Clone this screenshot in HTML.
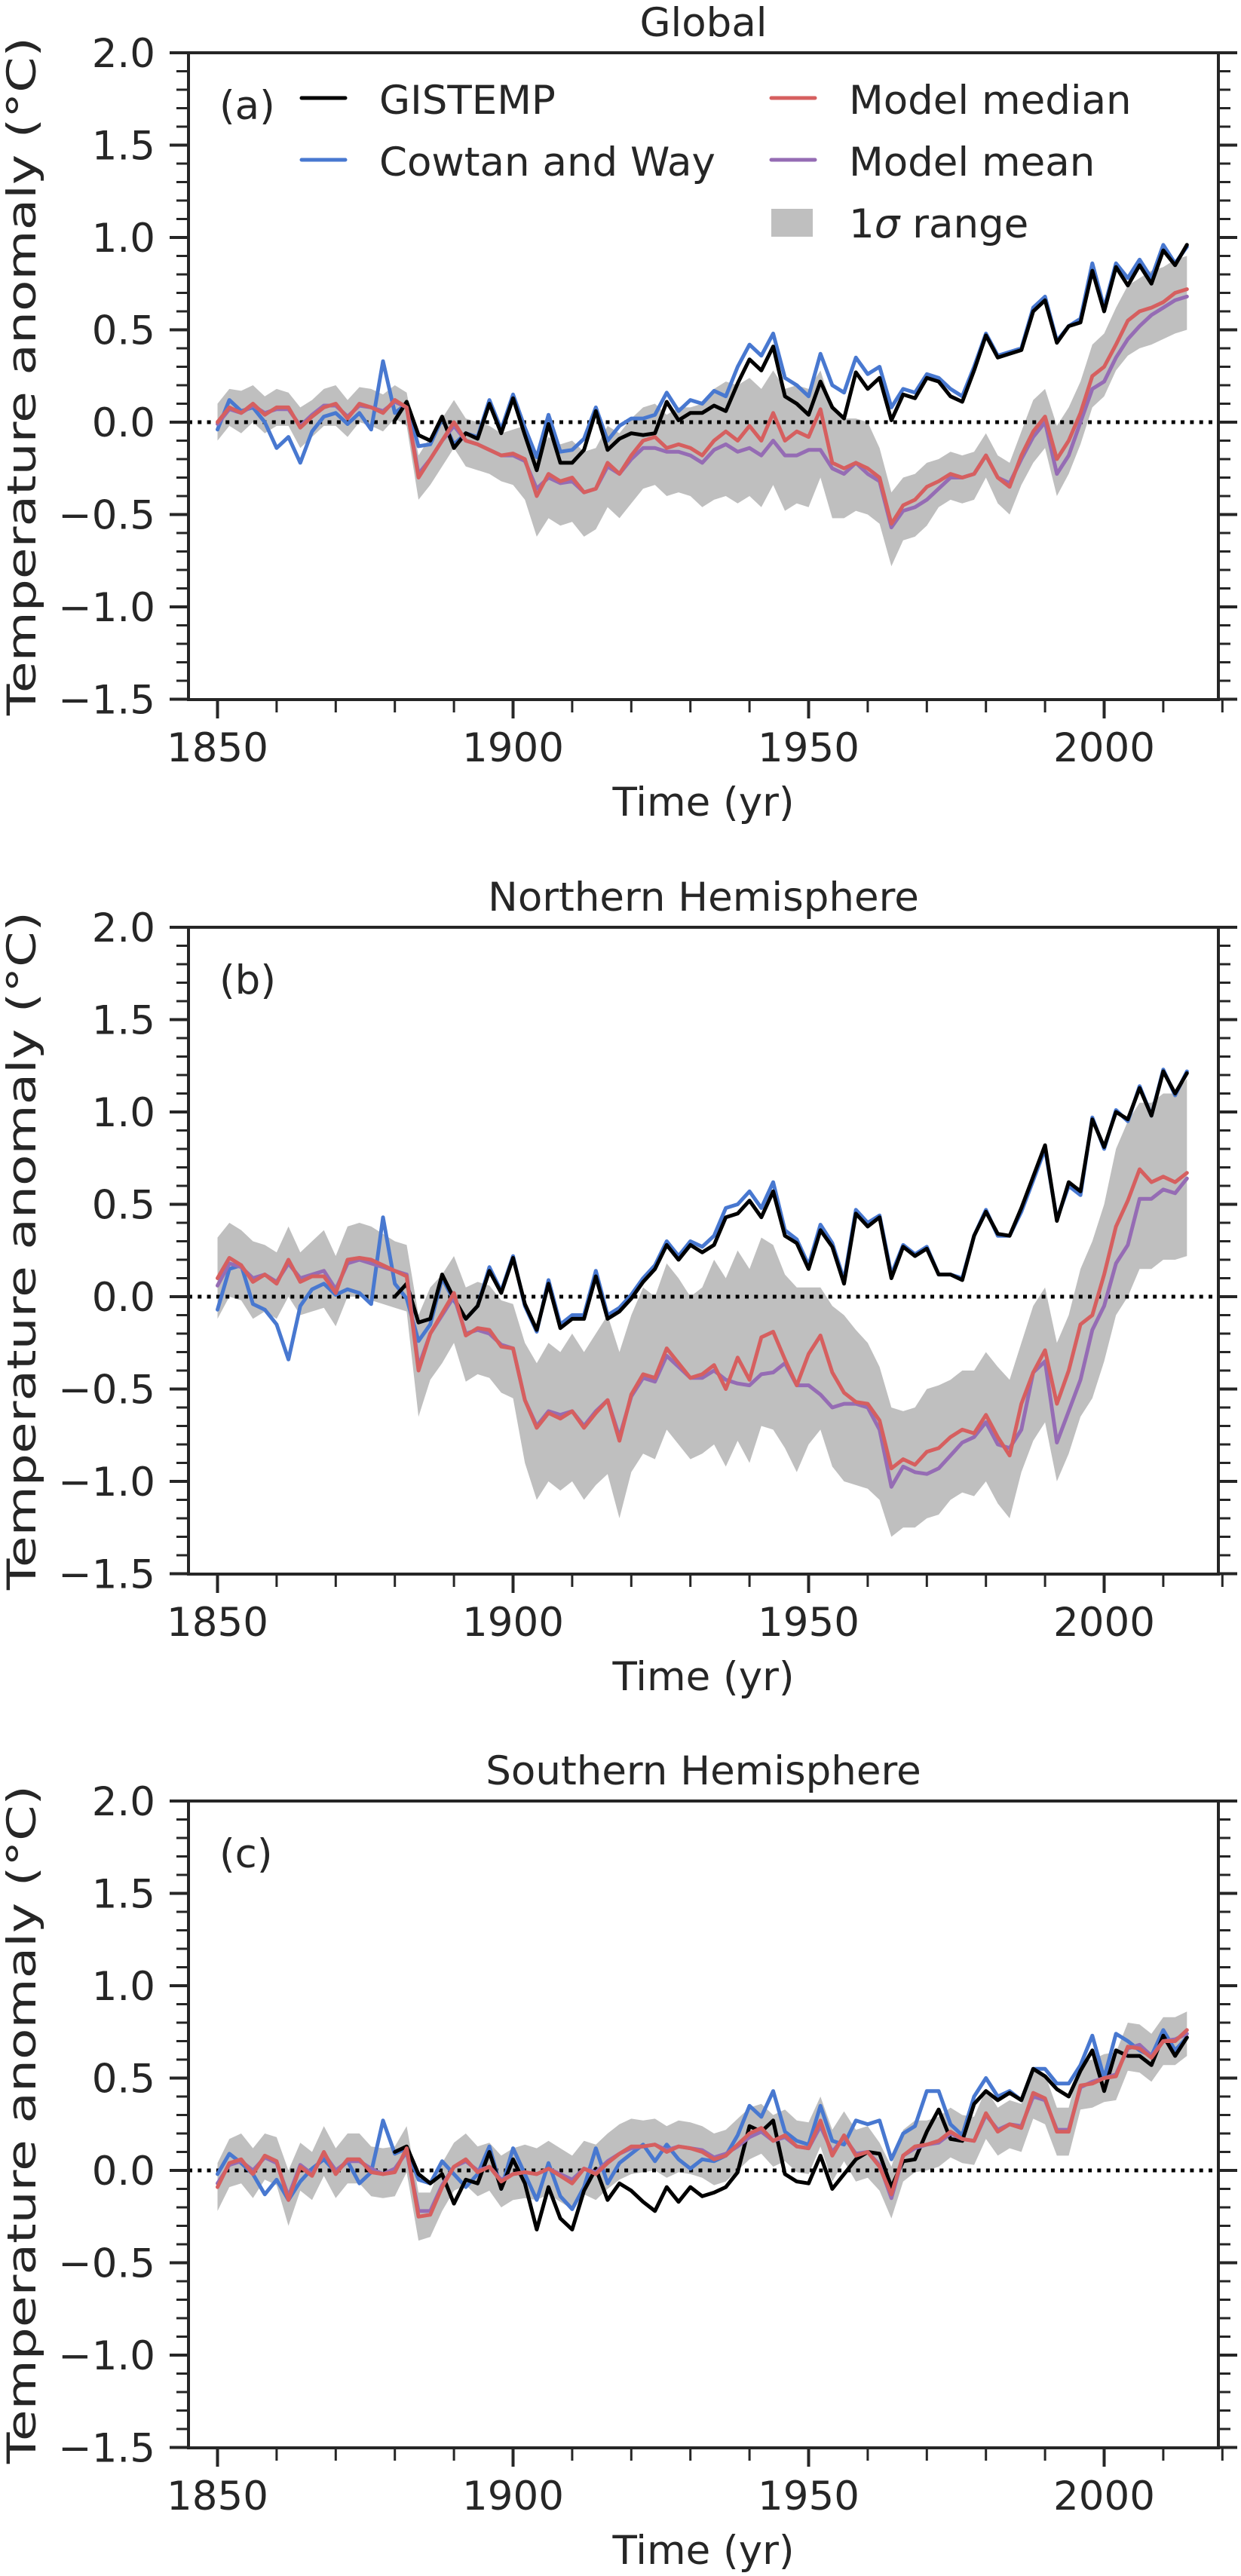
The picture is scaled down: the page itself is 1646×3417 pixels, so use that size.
<!DOCTYPE html>
<html><head><meta charset="utf-8"><style>
html,body{margin:0;padding:0;background:#fff;}
svg{display:block;font-family:"DejaVu Sans","Liberation Sans",sans-serif;}
</style></head><body>
<svg id="fig" xmlns="http://www.w3.org/2000/svg" width="1646" height="3417" viewBox="0 0 1646 3417"></svg>
<script>
// ---------- data (even years) ----------
const obsStartCW = 1850, obsStartGIS = 1880, modelStart = 1850;
const titles = ["Global", "Northern Hemisphere", "Southern Hemisphere"];
const panelLabels = ["(a)", "(b)", "(c)"];
const yTicks = [2.0, 1.5, 1.0, 0.5, 0.0, -0.5, -1.0, -1.5];
const yTickLabels = ["2.0", "1.5", "1.0", "0.5", "0.0", "\u22120.5", "\u22121.0", "\u22121.5"];
const xTicks = [1850, 1900, 1950, 2000];
const xTickLabels = ["1850", "1900", "1950", "2000"];

const gisA = [.01,.11,-.07,-.10,.03,-.14,-.06,-.09,.10,-.06,.13,-.07,-.26,-.01,-.22,-.22,-.15,.06,-.15,-.09,-.06,-.07,-.06,.11,.01,.05,.05,.09,.06,.21,.34,.28,.41,.14,.10,.04,.22,.08,.02,.27,.18,.24,.01,.15,.13,.24,.22,.14,.11,.28,.47,.35,.37,.39,.60,.66,.43,.52,.54,.82,.60,.84,.74,.85,.75,.93,.85,.96];
const cwA = [-.04,.12,.06,.08,.00,-.14,-.08,-.22,-.05,.03,.05,-.01,.05,-.04,.33,.05,.10,-.13,-.12,.02,-.12,-.06,-.08,.12,-.04,.15,-.03,-.19,.04,-.16,-.15,-.09,.08,-.10,-.02,.02,.02,.04,.16,.06,.12,.10,.17,.14,.30,.42,.36,.48,.24,.20,.14,.37,.20,.16,.35,.26,.30,.08,.18,.16,.26,.24,.18,.14,.30,.48,.36,.38,.40,.62,.68,.44,.52,.56,.86,.62,.86,.78,.88,.78,.96,.86,.95];
const medA = [.00,.08,.05,.10,.04,.08,.08,-.03,.03,.08,.10,.02,.10,.08,.05,.12,.08,-.30,-.20,-.10,.00,-.10,-.12,-.15,-.18,-.17,-.20,-.40,-.28,-.32,-.30,-.38,-.36,-.22,-.28,-.18,-.10,-.08,-.14,-.12,-.14,-.18,-.10,-.05,-.10,-.02,-.10,.05,-.10,-.05,-.08,.07,-.22,-.25,-.22,-.25,-.30,-.55,-.45,-.42,-.35,-.32,-.28,-.30,-.28,-.18,-.30,-.35,-.18,-.05,.03,-.20,-.10,.05,.25,.30,.42,.55,.60,.62,.65,.70,.72];
const meanA = [-.01,.07,.05,.09,.05,.07,.07,-.02,.04,.09,.09,.03,.09,.08,.06,.11,.08,-.28,-.20,-.10,-.02,-.10,-.12,-.15,-.18,-.18,-.21,-.36,-.30,-.33,-.32,-.38,-.36,-.24,-.28,-.20,-.14,-.14,-.16,-.16,-.18,-.22,-.15,-.12,-.16,-.14,-.18,-.10,-.18,-.18,-.15,-.15,-.25,-.28,-.22,-.28,-.32,-.57,-.48,-.46,-.42,-.36,-.30,-.30,-.28,-.18,-.30,-.33,-.20,-.08,.00,-.28,-.18,.00,.18,.22,.35,.45,.52,.58,.62,.66,.68];
const hiA = [.10,.18,.17,.20,.14,.18,.16,.08,.12,.18,.20,.12,.19,.18,.15,.20,.16,-.18,-.08,.02,.12,.02,.00,-.02,-.06,-.04,-.02,-.18,-.08,-.12,-.10,-.16,-.14,-.02,-.06,.02,.08,.10,.04,.08,.08,.10,.18,.22,.20,.24,.18,.28,.18,.20,.18,.28,.08,.02,.02,.00,-.14,-.38,-.30,-.28,-.22,-.20,-.16,-.18,-.16,-.06,-.18,-.22,-.05,.12,.18,-.02,.08,.22,.42,.48,.62,.74,.78,.82,.84,.88,.90];
const loA = [-.10,-.02,-.06,.00,-.06,-.02,-.02,-.14,-.08,-.02,-.02,-.08,.00,-.02,-.05,.02,-.02,-.42,-.34,-.24,-.14,-.24,-.26,-.28,-.32,-.34,-.42,-.62,-.52,-.56,-.54,-.62,-.58,-.46,-.52,-.44,-.36,-.34,-.40,-.38,-.40,-.46,-.42,-.40,-.44,-.40,-.46,-.34,-.48,-.44,-.46,-.30,-.52,-.52,-.48,-.50,-.55,-.78,-.64,-.62,-.56,-.46,-.42,-.44,-.42,-.30,-.44,-.50,-.34,-.22,-.14,-.40,-.28,-.12,.08,.14,.28,.36,.40,.42,.45,.48,.50];

const gisB = [.00,.07,-.14,-.12,.12,-.01,-.12,-.05,.14,.02,.21,-.04,-.18,.07,-.17,-.12,-.12,.11,-.12,-.08,-.01,.08,.15,.28,.20,.28,.24,.28,.43,.45,.52,.43,.57,.33,.29,.15,.36,.27,.07,.45,.38,.43,.10,.27,.22,.26,.12,.12,.09,.33,.46,.34,.33,.48,.65,.82,.41,.62,.57,.96,.81,1.0,.96,1.13,.98,1.22,1.10,1.21];
const cwB = [-.07,.15,.17,-.04,-.07,-.15,-.34,-.05,.04,.07,.01,.04,.02,-.04,.43,.07,-.01,-.24,-.15,.10,-.02,-.12,-.05,.16,.03,.22,-.05,-.19,.09,-.15,-.10,-.10,.14,-.10,-.06,.01,.10,.17,.30,.22,.30,.27,.33,.48,.50,.57,.48,.62,.36,.31,.17,.39,.29,.09,.47,.40,.44,.12,.28,.23,.27,.12,.12,.10,.33,.47,.33,.33,.46,.63,.80,.42,.60,.55,.97,.80,1.01,.95,1.14,.98,1.23,1.09,1.22];
const medB = [.10,.21,.17,.08,.12,.07,.20,.08,.11,.11,.02,.20,.21,.20,.17,.14,.11,-.40,-.20,-.09,.02,-.21,-.17,-.18,-.27,-.28,-.56,-.71,-.63,-.66,-.62,-.71,-.63,-.56,-.78,-.53,-.42,-.44,-.28,-.36,-.44,-.42,-.37,-.50,-.33,-.45,-.22,-.19,-.34,-.48,-.31,-.21,-.41,-.52,-.57,-.58,-.67,-.93,-.88,-.91,-.84,-.82,-.76,-.72,-.74,-.64,-.76,-.86,-.58,-.41,-.29,-.58,-.40,-.15,-.10,.12,.38,.52,.69,.62,.65,.62,.67];
const meanB = [.06,.18,.16,.10,.12,.08,.18,.10,.12,.14,.04,.18,.20,.18,.16,.14,.12,-.38,-.20,-.10,.00,-.20,-.18,-.20,-.26,-.28,-.56,-.70,-.62,-.64,-.62,-.70,-.62,-.56,-.76,-.54,-.44,-.46,-.32,-.38,-.44,-.44,-.40,-.45,-.47,-.48,-.42,-.41,-.36,-.48,-.48,-.53,-.60,-.58,-.58,-.60,-.72,-1.03,-.92,-.95,-.96,-.93,-.86,-.79,-.76,-.68,-.80,-.82,-.72,-.41,-.35,-.79,-.62,-.45,-.18,-.05,.18,.28,.53,.53,.58,.56,.64];
const hiB = [.32,.40,.36,.30,.28,.24,.38,.24,.30,.36,.22,.38,.40,.38,.34,.30,.28,-.10,.05,.12,.22,.05,.08,.06,-.02,-.04,-.25,-.36,-.25,-.30,-.20,-.30,-.20,-.10,-.30,-.10,.05,.00,.18,.10,.00,.05,.20,.10,.25,.15,.32,.28,.12,.05,.05,.05,-.05,-.10,-.18,-.25,-.38,-.60,-.62,-.60,-.50,-.48,-.45,-.40,-.40,-.30,-.38,-.45,-.25,-.05,.05,-.25,-.10,.15,.30,.50,.80,.95,1.05,1.05,1.10,1.10,1.18];
const loB = [-.12,.00,-.02,-.12,-.08,-.12,.00,-.10,-.08,-.06,-.16,.00,.00,-.02,-.04,-.06,-.08,-.65,-.45,-.36,-.25,-.46,-.42,-.44,-.52,-.55,-.90,-1.10,-1.00,-1.05,-1.00,-1.10,-1.02,-.96,-1.20,-.95,-.85,-.88,-.72,-.80,-.88,-.85,-.80,-.92,-.78,-.90,-.70,-.72,-.82,-.95,-.80,-.72,-.92,-1.00,-1.02,-1.04,-1.10,-1.30,-1.25,-1.25,-1.20,-1.18,-1.10,-1.06,-1.08,-1.00,-1.12,-1.20,-.95,-.78,-.68,-1.00,-.85,-.65,-.55,-.35,-.10,.00,.15,.15,.20,.20,.22];

const gisC = [.10,.13,-.02,-.07,-.02,-.18,-.05,-.07,.10,-.10,.06,-.07,-.32,-.09,-.26,-.32,-.11,.01,-.16,-.07,-.11,-.17,-.22,-.09,-.17,-.09,-.14,-.12,-.09,-.01,.24,.21,.27,-.02,-.06,-.07,.08,-.10,-.02,.06,.10,.09,-.09,.05,.06,.21,.33,.17,.16,.36,.43,.38,.42,.38,.55,.51,.44,.40,.54,.65,.43,.65,.62,.62,.57,.73,.62,.72];
const cwC = [-.02,.09,.04,-.02,-.13,-.05,-.16,-.06,.01,.06,-.01,.05,-.07,-.01,.27,.09,.12,-.05,-.07,.05,-.02,-.09,-.02,.13,-.10,.12,-.02,-.16,.04,-.14,-.21,-.09,.12,-.07,.04,.09,.14,.05,.14,.06,.01,.06,.05,.08,.19,.35,.29,.43,.21,.16,.14,.35,.16,.14,.27,.25,.27,.06,.20,.24,.43,.43,.25,.19,.40,.50,.40,.43,.38,.55,.55,.47,.47,.57,.73,.50,.74,.70,.65,.62,.76,.65,.72];
const medC = [-.09,.04,.06,-.02,.08,.05,-.16,.02,-.03,.10,-.02,.06,.06,-.01,-.02,-.01,.12,-.25,-.24,-.09,.02,.06,-.01,.02,-.06,-.02,-.01,-.02,.01,-.03,-.07,.01,-.02,.04,.09,.13,.13,.14,.10,.13,.12,.10,.06,.08,.14,.20,.23,.16,.19,.13,.12,.27,.08,.19,.08,.10,.02,-.13,.08,.13,.14,.16,.21,.17,.16,.31,.21,.25,.23,.42,.39,.21,.21,.46,.47,.50,.51,.67,.66,.61,.70,.70,.76];
const meanC = [-.07,.03,.05,.00,.07,.04,-.14,.03,-.02,.09,.00,.05,.05,.01,-.02,.01,.10,-.22,-.22,-.08,.02,.05,.00,.02,-.05,-.02,-.01,-.02,.01,-.02,-.05,.01,-.01,.05,.09,.12,.13,.14,.11,.13,.12,.11,.07,.09,.13,.18,.21,.16,.18,.13,.12,.24,.10,.18,.09,.10,.03,-.15,.08,.12,.14,.15,.20,.17,.16,.30,.22,.25,.24,.40,.38,.22,.22,.45,.48,.50,.52,.66,.68,.62,.70,.71,.74];
const hiC = [.04,.17,.20,.12,.20,.18,.00,.15,.10,.24,.12,.20,.20,.13,.12,.13,.24,-.12,-.12,.04,.15,.20,.13,.15,.08,.12,.14,.12,.16,.12,.08,.16,.14,.20,.25,.28,.27,.28,.24,.27,.26,.24,.20,.22,.28,.34,.36,.30,.33,.27,.26,.40,.22,.32,.22,.24,.15,.02,.22,.27,.27,.29,.34,.30,.29,.44,.34,.38,.36,.55,.52,.34,.34,.59,.60,.63,.64,.80,.79,.74,.83,.83,.86];
const loC = [-.22,-.09,-.07,-.15,-.05,-.08,-.30,-.11,-.16,-.03,-.15,-.07,-.07,-.14,-.15,-.14,-.01,-.38,-.36,-.22,-.11,-.08,-.14,-.11,-.20,-.16,-.15,-.16,-.13,-.17,-.21,-.13,-.16,-.10,-.05,-.02,-.01,.00,-.04,-.01,-.02,-.04,-.08,-.06,.00,.06,.09,.02,.05,-.01,-.02,.13,-.06,.05,-.06,-.04,-.11,-.26,-.06,-.01,.00,.02,.07,.04,.03,.17,.08,.12,.10,.28,.25,.08,.08,.33,.34,.37,.38,.54,.53,.48,.57,.57,.62];

const panelsData = [
  {gis: gisA, cw: cwA, med: medA, mean: meanA, hi: hiA, lo: loA},
  {gis: gisB, cw: cwB, med: medB, mean: meanB, hi: hiB, lo: loB},
  {gis: gisC, cw: cwC, med: medC, mean: meanC, hi: hiC, lo: loC}
];

// ---------- drawing ----------
const NS = "http://www.w3.org/2000/svg";
const svg = document.getElementById("fig");
const tops = [70, 1230, 2389];
const L = 250, R = 1616, H = 858;
const AX = "#262626";
function xS(yr){ return 288.5 + (yr - 1850) * 7.84; }
function mk(tag, attrs, parent){
  const e = document.createElementNS(NS, tag);
  for (const k in attrs) e.setAttribute(k, attrs[k]);
  (parent || svg).appendChild(e);
  return e;
}
function pathFrom(arr, start, yS){
  let d = "";
  arr.forEach((v, i) => { d += (i ? "L" : "M") + xS(start + 2*i).toFixed(1) + "," + yS(v).toFixed(1); });
  return d;
}

panelsData.forEach((pd, p) => {
  const T = tops[p];
  const yS = v => T + (2 - v) * 245;
  const g = mk("g", {});
  
  

  let d = pathFrom(pd.hi, modelStart, yS);
  for (let i = pd.lo.length - 1; i >= 0; i--) d += "L" + xS(modelStart + 2*i).toFixed(1) + "," + yS(pd.lo[i]).toFixed(1);
  const band = mk("path", {d: d + "Z", fill: "#bfbfbf", stroke: "none"}, g);
  
  

  const zl = mk("line", {x1: L, x2: R, y1: yS(0), y2: yS(0), stroke: "#000", "stroke-width": 5, "stroke-dasharray": "5 7.3"}, g);
  
  

  const series = [
    ["cowtan-way-line", pd.cw, obsStartCW, "#4878d0"],
    ["gistemp-line", pd.gis, obsStartGIS, "#000000"],
    ["model-mean-line", pd.mean, modelStart, "#956cb4"],
    ["model-median-line", pd.med, modelStart, "#d65f5f"]
  ];
  series.forEach(s => {
    const ln = mk("path", {d: pathFrom(s[1], s[2], yS), fill: "none", stroke: s[3], "stroke-width": 5, "stroke-linejoin": "round", "stroke-linecap": "round"}, g);
    
    
  });

  const fr = mk("rect", {x: L, y: T, width: R - L, height: H, fill: "none", stroke: AX, "stroke-width": 4}, g);
  
  

  for (let k = 0; k <= 35; k++) {
    const v = 2 - k * 0.1, y = yS(v), major = (k % 5 === 0), len = major ? 25 : 16, w = major ? 4 : 3;
    const t1 = mk("line", {x1: L - len, x2: L, y1: y, y2: y, stroke: AX, "stroke-width": w}, g);
    
    
    const t2 = mk("line", {x1: R, x2: R + len, y1: y, y2: y, stroke: AX, "stroke-width": w}, g);
    
    
  }
  yTicks.forEach((v, i) => {
    const t = mk("text", {x: 206, y: yS(v) + 19, "text-anchor": "end", "font-size": 53, fill: AX}, g);
    t.textContent = yTickLabels[i];
    
    
  });
  for (let yr = 1850; yr <= 2020; yr += 10) {
    const major = (yr % 50 === 0), len = major ? 25 : 17, w = major ? 4 : 3;
    const t = mk("line", {x1: xS(yr), x2: xS(yr), y1: T + H, y2: T + H + len, stroke: AX, "stroke-width": w}, g);
    
    
  }
  xTicks.forEach((yr, i) => {
    const t = mk("text", {x: xS(yr), y: T + H + 82, "text-anchor": "middle", "font-size": 53, fill: AX}, g);
    t.textContent = xTickLabels[i];
    
    
  });
  const xl = mk("text", {x: 933, y: T + H + 154, "text-anchor": "middle", "font-size": 53, fill: AX}, g);
  xl.textContent = "Time (yr)";
  
  
  const yl = mk("text", {x: 0, y: 0, "text-anchor": "middle", "font-size": 53, fill: AX, textLength: 900, lengthAdjust: "spacingAndGlyphs", transform: "translate(47," + (T + 429) + ") rotate(-90)"}, g);
  yl.textContent = "Temperature anomaly (°C)";
  
  
  const ti = mk("text", {x: 933, y: T - 22, "text-anchor": "middle", "font-size": 53, fill: AX}, g);
  ti.textContent = titles[p];
  
  
  const pl = mk("text", {x: 291, y: T + 88, "font-size": 53, fill: AX}, g);
  pl.textContent = panelLabels[p];
  
  
});

const legendItems = [
  ["GISTEMP", "#000000", 400, 130],
  ["Cowtan and Way", "#4878d0", 400, 212],
  ["Model median", "#d65f5f", 1023, 130],
  ["Model mean", "#956cb4", 1023, 212]
];
const lg = mk("g", {});


legendItems.forEach(it => {
  const e = mk("g", {}, lg);
  
  
  mk("line", {x1: it[2], x2: it[2] + 58, y1: it[3], y2: it[3], stroke: it[1], "stroke-width": 5, "stroke-linecap": "round"}, e);
  const t = mk("text", {x: it[2] + 103, y: it[3] + 21, "font-size": 53, fill: AX}, e);
  t.textContent = it[0];
});
const e5 = mk("g", {}, lg);


mk("rect", {x: 1023, y: 277, width: 55, height: 37, fill: "#bfbfbf"}, e5);
const t5 = mk("text", {x: 1126, y: 315, "font-size": 53, fill: AX}, e5);
t5.innerHTML = '1<tspan font-style="italic">σ</tspan> range';
</script>
</body></html>
